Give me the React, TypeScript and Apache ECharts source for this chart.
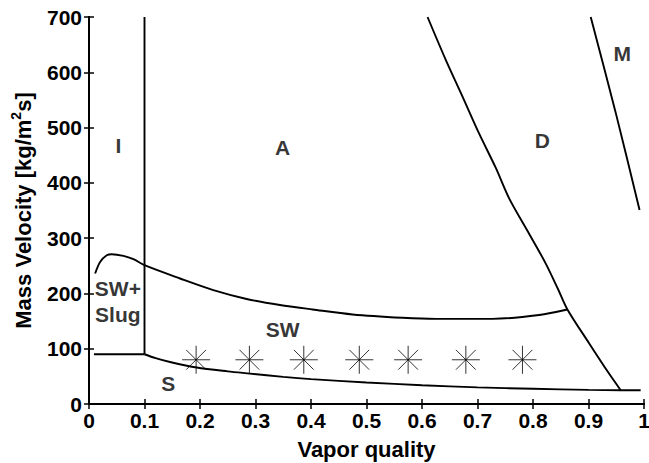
import React, { useEffect, useRef } from 'react';
import * as echarts from 'echarts';

// Flow pattern map boundaries (x: vapor quality, y: mass velocity)
const boundaryVertical = [[0.1, 90], [0.1, 700]];
const boundaryLeftFlat = [[0.009, 90], [0.1, 90]];
const boundaryStratified = [[0.1, 90], [0.12, 83], [0.146, 76], [0.194, 66], [0.25, 59], [0.29, 55], [0.35, 49], [0.4, 45], [0.5, 39], [0.6, 34], [0.7, 30], [0.8, 27.5], [0.9, 25.5], [0.958, 25], [0.994, 25]];
const boundaryWavy = [[0.011, 236], [0.02, 257], [0.032, 269], [0.041, 271], [0.062, 268], [0.08, 262], [0.1, 251], [0.164, 227], [0.224, 206], [0.284, 190], [0.344, 179], [0.403, 171], [0.475, 162], [0.565, 156], [0.625, 154], [0.727, 154], [0.811, 161], [0.862, 171]];
const boundaryDryout = [[0.61, 700], [0.643, 622], [0.673, 556], [0.703, 489], [0.733, 427], [0.757, 372], [0.793, 308], [0.823, 254], [0.845, 208], [0.862, 171], [0.901, 110], [0.937, 55], [0.958, 25]];
const boundaryMist = [[0.904, 700], [0.949, 527], [0.992, 351]];

// Experimental points
const expX = [0.193, 0.289, 0.387, 0.487, 0.575, 0.679, 0.781];
const expY = [80, 80, 80, 80, 80, 80, 80];

// Region labels
const regionNames = ['I', 'A', 'D', 'M', 'SW+\nSlug', 'SW', 'S'];
const regionX = [0.053, 0.349, 0.817, 0.961, 0.052, 0.349, 0.143];
const regionY = [468, 464, 476, 634, 186, 134, 37];

const FONT = 'Liberation Sans, Arial, Helvetica, sans-serif';
const STAR = 'path://M0,-1L0,1M-1,0L1,0M-0.7071,-0.7071L0.7071,0.7071M-0.7071,0.7071L0.7071,-0.7071';

export default function App() {
  const ref = useRef<HTMLDivElement>(null);
  useEffect(() => {
    if (!ref.current) return;
    const chart = echarts.init(ref.current, undefined, { renderer: 'svg' });
    const axisLine = { show: true, lineStyle: { color: '#000', width: 2 } };
    const axisTick = { show: true, inside: true, length: 5, lineStyle: { color: '#000', width: 1.5 } };
    const tickLabel = { color: '#000', fontSize: 21, fontWeight: 'bold', fontFamily: FONT };
    const lineSeries = (data: number[][], smooth: number | boolean = false) => ({
      type: 'line',
      data,
      showSymbol: false,
      symbol: 'none',
      smooth,
      lineStyle: { color: '#000', width: 1.9 },
      xAxisIndex: 0,
      yAxisIndex: 0,
      silent: true,
    });
    chart.setOption({
      animation: false,
      backgroundColor: '#fff',
      grid: { left: 89, right: 5, top: 17, bottom: 59, containLabel: false, outerBoundsMode: 'none' },
      xAxis: [
        {
          type: 'value', min: 0, max: 1, interval: 0.1, position: 'bottom',
          axisLine, axisTick, splitLine: { show: false },
          axisLabel: { ...tickLabel, margin: 6, formatter: (v: number) => String(Math.round(v * 10) / 10) },
          name: 'Vapor quality', nameLocation: 'middle', nameGap: 34,
          nameTextStyle: { color: '#000', fontSize: 22, fontWeight: 'bold', fontFamily: FONT },
        },
        {
          type: 'value', min: 0, max: 1, interval: 0.1, position: 'top',
          axisLine, axisTick, splitLine: { show: false }, axisLabel: { show: false },
        },
      ],
      yAxis: [
        {
          type: 'value', min: 0, max: 700, interval: 100, position: 'left',
          axisLine, axisTick, splitLine: { show: false },
          axisLabel: { ...tickLabel, margin: 7 },
          name: '{a|Mass Velocity [kg/m}{b|2}{a|s]}', nameLocation: 'middle', nameGap: 52,
          nameTextStyle: {
            rich: {
              a: { color: '#000', fontSize: 22, fontWeight: 'bold', fontFamily: FONT, lineHeight: 28 },
              b: { color: '#000', fontSize: 14, fontWeight: 'bold', fontFamily: FONT, lineHeight: 14, verticalAlign: 'top' },
            },
          },
        },
        {
          type: 'value', min: 0, max: 700, interval: 100, position: 'right',
          axisLine, axisTick, splitLine: { show: false }, axisLabel: { show: false },
        },
      ],
      series: [
        lineSeries(boundaryVertical),
        lineSeries(boundaryLeftFlat),
        lineSeries(boundaryStratified, 0.3),
        lineSeries(boundaryWavy, 0.3),
        lineSeries(boundaryDryout, 0.3),
        lineSeries(boundaryMist, 0.3),
        {
          type: 'scatter',
          data: expX.map((x, i) => [x, expY[i]]),
          symbol: STAR,
          symbolSize: 28,
          itemStyle: { color: 'rgba(0,0,0,0)', borderColor: '#000', borderWidth: 1 },
          silent: true,
        },
        {
          type: 'scatter',
          data: regionNames.map((n, i) => ({ name: n, value: [regionX[i], regionY[i]] })),
          symbolSize: 1,
          itemStyle: { color: 'rgba(0,0,0,0)' },
          label: {
            show: true, position: 'inside', formatter: '{b}',
            color: '#000', fontSize: 21, fontWeight: 'bold', fontFamily: FONT, lineHeight: 26,
          },
          silent: true,
        },
      ],
    });
    return () => chart.dispose();
  }, []);
  return <div ref={ref} style={{ position: 'fixed', left: 0, top: 0, width: 649, height: 463 }} />;
}
